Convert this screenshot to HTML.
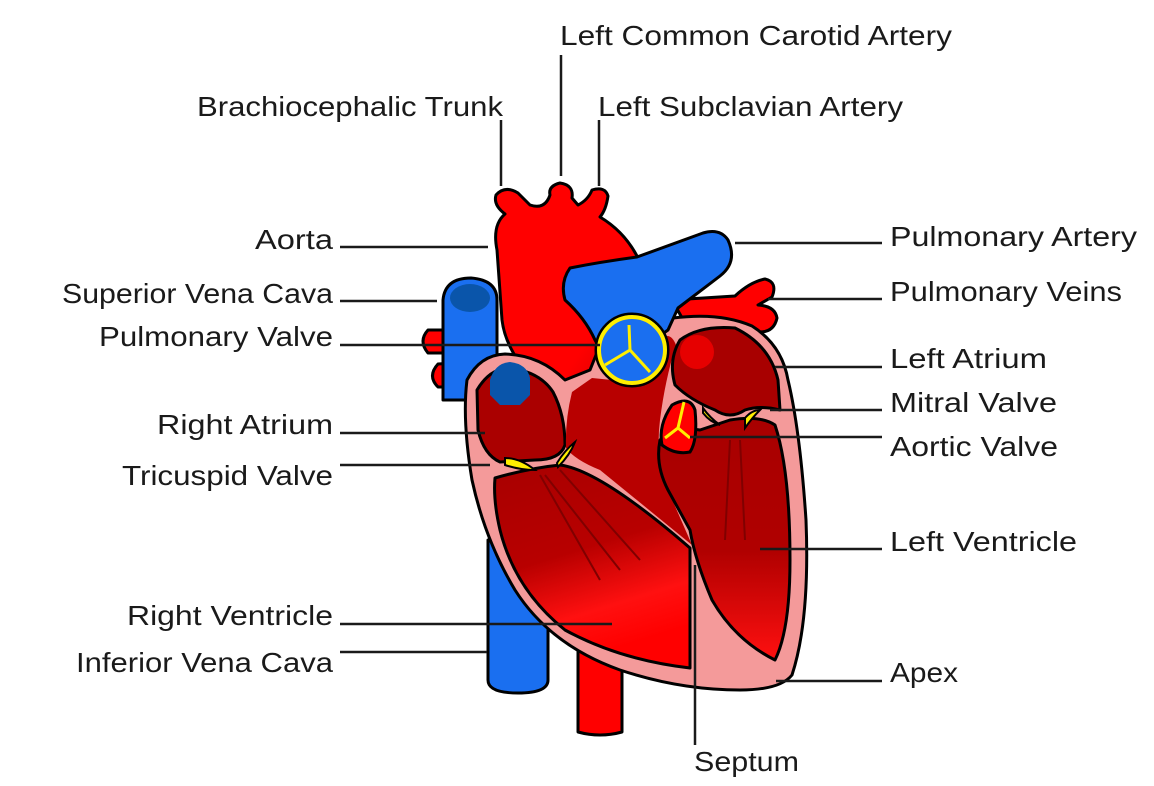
<!DOCTYPE html>
<html><head><meta charset="utf-8"><style>
html,body{margin:0;padding:0;background:#fff;}
svg{display:block;}
text{font-family:"Liberation Sans",sans-serif;font-size:28px;fill:#1a1a1a;}
</style></head><body>
<svg width="1154" height="786" viewBox="0 0 1154 786" xmlns="http://www.w3.org/2000/svg">
<defs>
<linearGradient id="rv" x1="0" y1="0" x2="0.3" y2="1">
<stop offset="0" stop-color="#a80000"/><stop offset="0.5" stop-color="#b80000"/><stop offset="0.8" stop-color="#ff1010"/><stop offset="1" stop-color="#ff0000"/></linearGradient>
<linearGradient id="lv" x1="0" y1="0" x2="0" y2="1">
<stop offset="0" stop-color="#a80000"/><stop offset="0.55" stop-color="#b00000"/><stop offset="1" stop-color="#ff1010"/></linearGradient>
<linearGradient id="ao" x1="0" y1="0" x2="1" y2="1">
<stop offset="0" stop-color="#ff0000"/><stop offset="0.7" stop-color="#f00"/><stop offset="1" stop-color="#c00"/></linearGradient>
</defs>
<g stroke="#000" stroke-width="3" stroke-linejoin="round">
<path d="M488,540 L548,540 L548,680 Q548,693 518,693 Q488,693 488,680 Z" fill="#1a6ff0"/>
<path d="M578,640 L622,640 L622,732 Q600,738 578,732 Z" fill="#ff0000"/>
<path d="M470,330 L428,330 Q418,341 428,353 L470,353 Z" fill="#ff0000"/>
<path d="M470,362 L438,364 Q427,376 438,387 L470,387 Z" fill="#ff0000"/>
<path d="M443,300 Q445,278 471,278 Q497,280 497,300 L497,400 L443,400 Z" fill="#1a6ff0"/>
<ellipse cx="470" cy="298" rx="20" ry="14" fill="#0a55aa" stroke="none"/>
<path d="M672,300 Q705,298 735,296 Q750,282 765,279 Q778,282 772,297 L758,305 Q775,306 777,318 Q774,332 760,332 L730,324 L690,332 Z" fill="#ff0000"/>
<path d="M497,250 Q492,225 505,214 Q493,205 496,195 Q505,185 518,193 L530,205 Q545,210 550,195 Q548,186 560,183 Q574,185 572,198 L578,205 Q588,200 592,190 Q605,186 608,196 Q606,210 600,217 Q625,232 638,258 L600,370 L575,392 Q540,390 525,370 Q505,345 502,320 Z" fill="url(#ao)"/>
<path d="M467,380 Q480,355 505,354 Q540,355 565,380 L590,370 L600,345 L673,318 Q720,312 752,326 Q782,345 788,380 Q800,430 806,520 Q810,620 792,675 Q780,690 740,690 Q680,690 620,670 Q550,645 515,590 Q485,540 472,480 Q462,420 467,380 Z" fill="#f49a9a"/>
<path d="M477,390 Q490,368 510,368 Q540,372 553,392 Q565,415 565,445 Q560,460 535,460 L500,462 Q484,455 478,430 Z" fill="#aa0000"/>
<path d="M572,392 L592,378 L612,380 L660,340 Q670,330 676,345 Q665,380 660,420 Q655,460 668,490 L692,545 L600,470 Q575,460 566,448 Q565,420 572,392 Z" fill="#b80000" stroke="none"/>
<path d="M495,478 Q530,468 560,465 Q600,470 690,548 L690,668 Q620,660 565,630 Q515,590 500,530 Q493,500 495,478 Z" fill="url(#rv)"/>
<path d="M680,340 Q700,325 735,328 Q770,345 778,380 L780,410 Q760,405 745,410 Q730,420 715,410 Q690,400 675,385 Q668,360 680,340 Z" fill="#a80000"/>
<path d="M660,440 Q672,425 700,430 L730,420 Q760,415 775,425 Q790,470 790,560 Q790,630 775,660 Q735,640 712,600 Q695,560 690,530 L668,490 Q655,465 660,440 Z" fill="url(#lv)"/>
<path d="M565,300 Q560,282 570,268 Q600,262 637,257 L703,233 Q720,228 728,240 Q738,262 720,276 L678,308 L668,330 L612,370 L595,340 Q585,318 565,300 Z" fill="#1a6ff0"/>
<path d="M490,380 Q495,363 510,362 Q527,364 530,378 L530,395 L520,405 L500,405 L490,395 Z" fill="#0a55aa" stroke="none"/>
</g>
<circle cx="697" cy="352" r="17" fill="#e60000"/>
<circle cx="632" cy="350" r="36" fill="#1a6ff0" stroke="#000" stroke-width="3"/>
<circle cx="632" cy="350" r="33" fill="none" stroke="#ffee00" stroke-width="4"/>
<path d="M629,325 L630,350 L605,365 M630,350 L650,372" stroke="#ffee00" stroke-width="3" fill="none"/>
<path d="M672,405 Q690,395 695,410 Q698,440 690,452 Q675,455 662,445 Q658,425 672,405 Z" fill="#ff0000" stroke="#000" stroke-width="3"/>
<path d="M684,402 L678,428 L665,438 M678,428 L690,438" stroke="#ffee00" stroke-width="3" fill="none"/>
<path d="M557,463 Q565,450 575,442 Q570,455 558,467 Z" fill="#ffee00" stroke="#000" stroke-width="2"/>
<path d="M505,458 Q520,458 535,470 Q520,470 505,465 Z" fill="#ffee00" stroke="#000" stroke-width="2"/>
<path d="M703,408 Q710,418 720,425 Q710,422 703,413 Z" fill="#ffee00" stroke="#000" stroke-width="2"/>
<path d="M745,418 Q752,410 760,410 Q752,418 745,428 Z" fill="#ffee00" stroke="#000" stroke-width="2"/>
<g stroke="#800000" stroke-width="2" fill="none">
<path d="M540,475 L600,580 M545,475 L620,570 M560,470 L640,560"/>
<path d="M730,440 L725,540 M740,440 L745,540"/>
</g>
<g stroke="#1a1a1a" stroke-width="2.5" fill="none">
<path d="M561,55 V176 M501,120 V186 M599,120 V186"/>
<path d="M340,247 H488 M340,301 H437 M340,345 H600 M340,433 H485 M340,465 H490 M340,624 H612 M340,652 H487"/>
<path d="M735,243 H882 M768,299 H882 M775,367 H882 M770,410 H882 M690,437 H882 M760,549 H882 M776,681 H882"/>
<path d="M695,565 V745"/>
</g>
<g>
<text x="560" y="45" textLength="392" lengthAdjust="spacingAndGlyphs">Left Common Carotid Artery</text>
<text x="197" y="116" textLength="306" lengthAdjust="spacingAndGlyphs">Brachiocephalic Trunk</text>
<text x="598" y="116" textLength="305" lengthAdjust="spacingAndGlyphs">Left Subclavian Artery</text>
<text x="255" y="249" textLength="78" lengthAdjust="spacingAndGlyphs">Aorta</text>
<text x="62" y="303" textLength="271" lengthAdjust="spacingAndGlyphs">Superior Vena Cava</text>
<text x="99" y="346" textLength="234" lengthAdjust="spacingAndGlyphs">Pulmonary Valve</text>
<text x="157" y="434" textLength="176" lengthAdjust="spacingAndGlyphs">Right Atrium</text>
<text x="122" y="485" textLength="211" lengthAdjust="spacingAndGlyphs">Tricuspid Valve</text>
<text x="127" y="625" textLength="206" lengthAdjust="spacingAndGlyphs">Right Ventricle</text>
<text x="76" y="672" textLength="257" lengthAdjust="spacingAndGlyphs">Inferior Vena Cava</text>
<text x="890" y="246" textLength="247" lengthAdjust="spacingAndGlyphs">Pulmonary Artery</text>
<text x="890" y="301" textLength="232" lengthAdjust="spacingAndGlyphs">Pulmonary Veins</text>
<text x="890" y="368" textLength="157" lengthAdjust="spacingAndGlyphs">Left Atrium</text>
<text x="890" y="412" textLength="167" lengthAdjust="spacingAndGlyphs">Mitral Valve</text>
<text x="890" y="456" textLength="168" lengthAdjust="spacingAndGlyphs">Aortic Valve</text>
<text x="890" y="551" textLength="187" lengthAdjust="spacingAndGlyphs">Left Ventricle</text>
<text x="890" y="682" textLength="68" lengthAdjust="spacingAndGlyphs">Apex</text>
<text x="694" y="771" textLength="105" lengthAdjust="spacingAndGlyphs">Septum</text>
</g>
</svg>
</body></html>
